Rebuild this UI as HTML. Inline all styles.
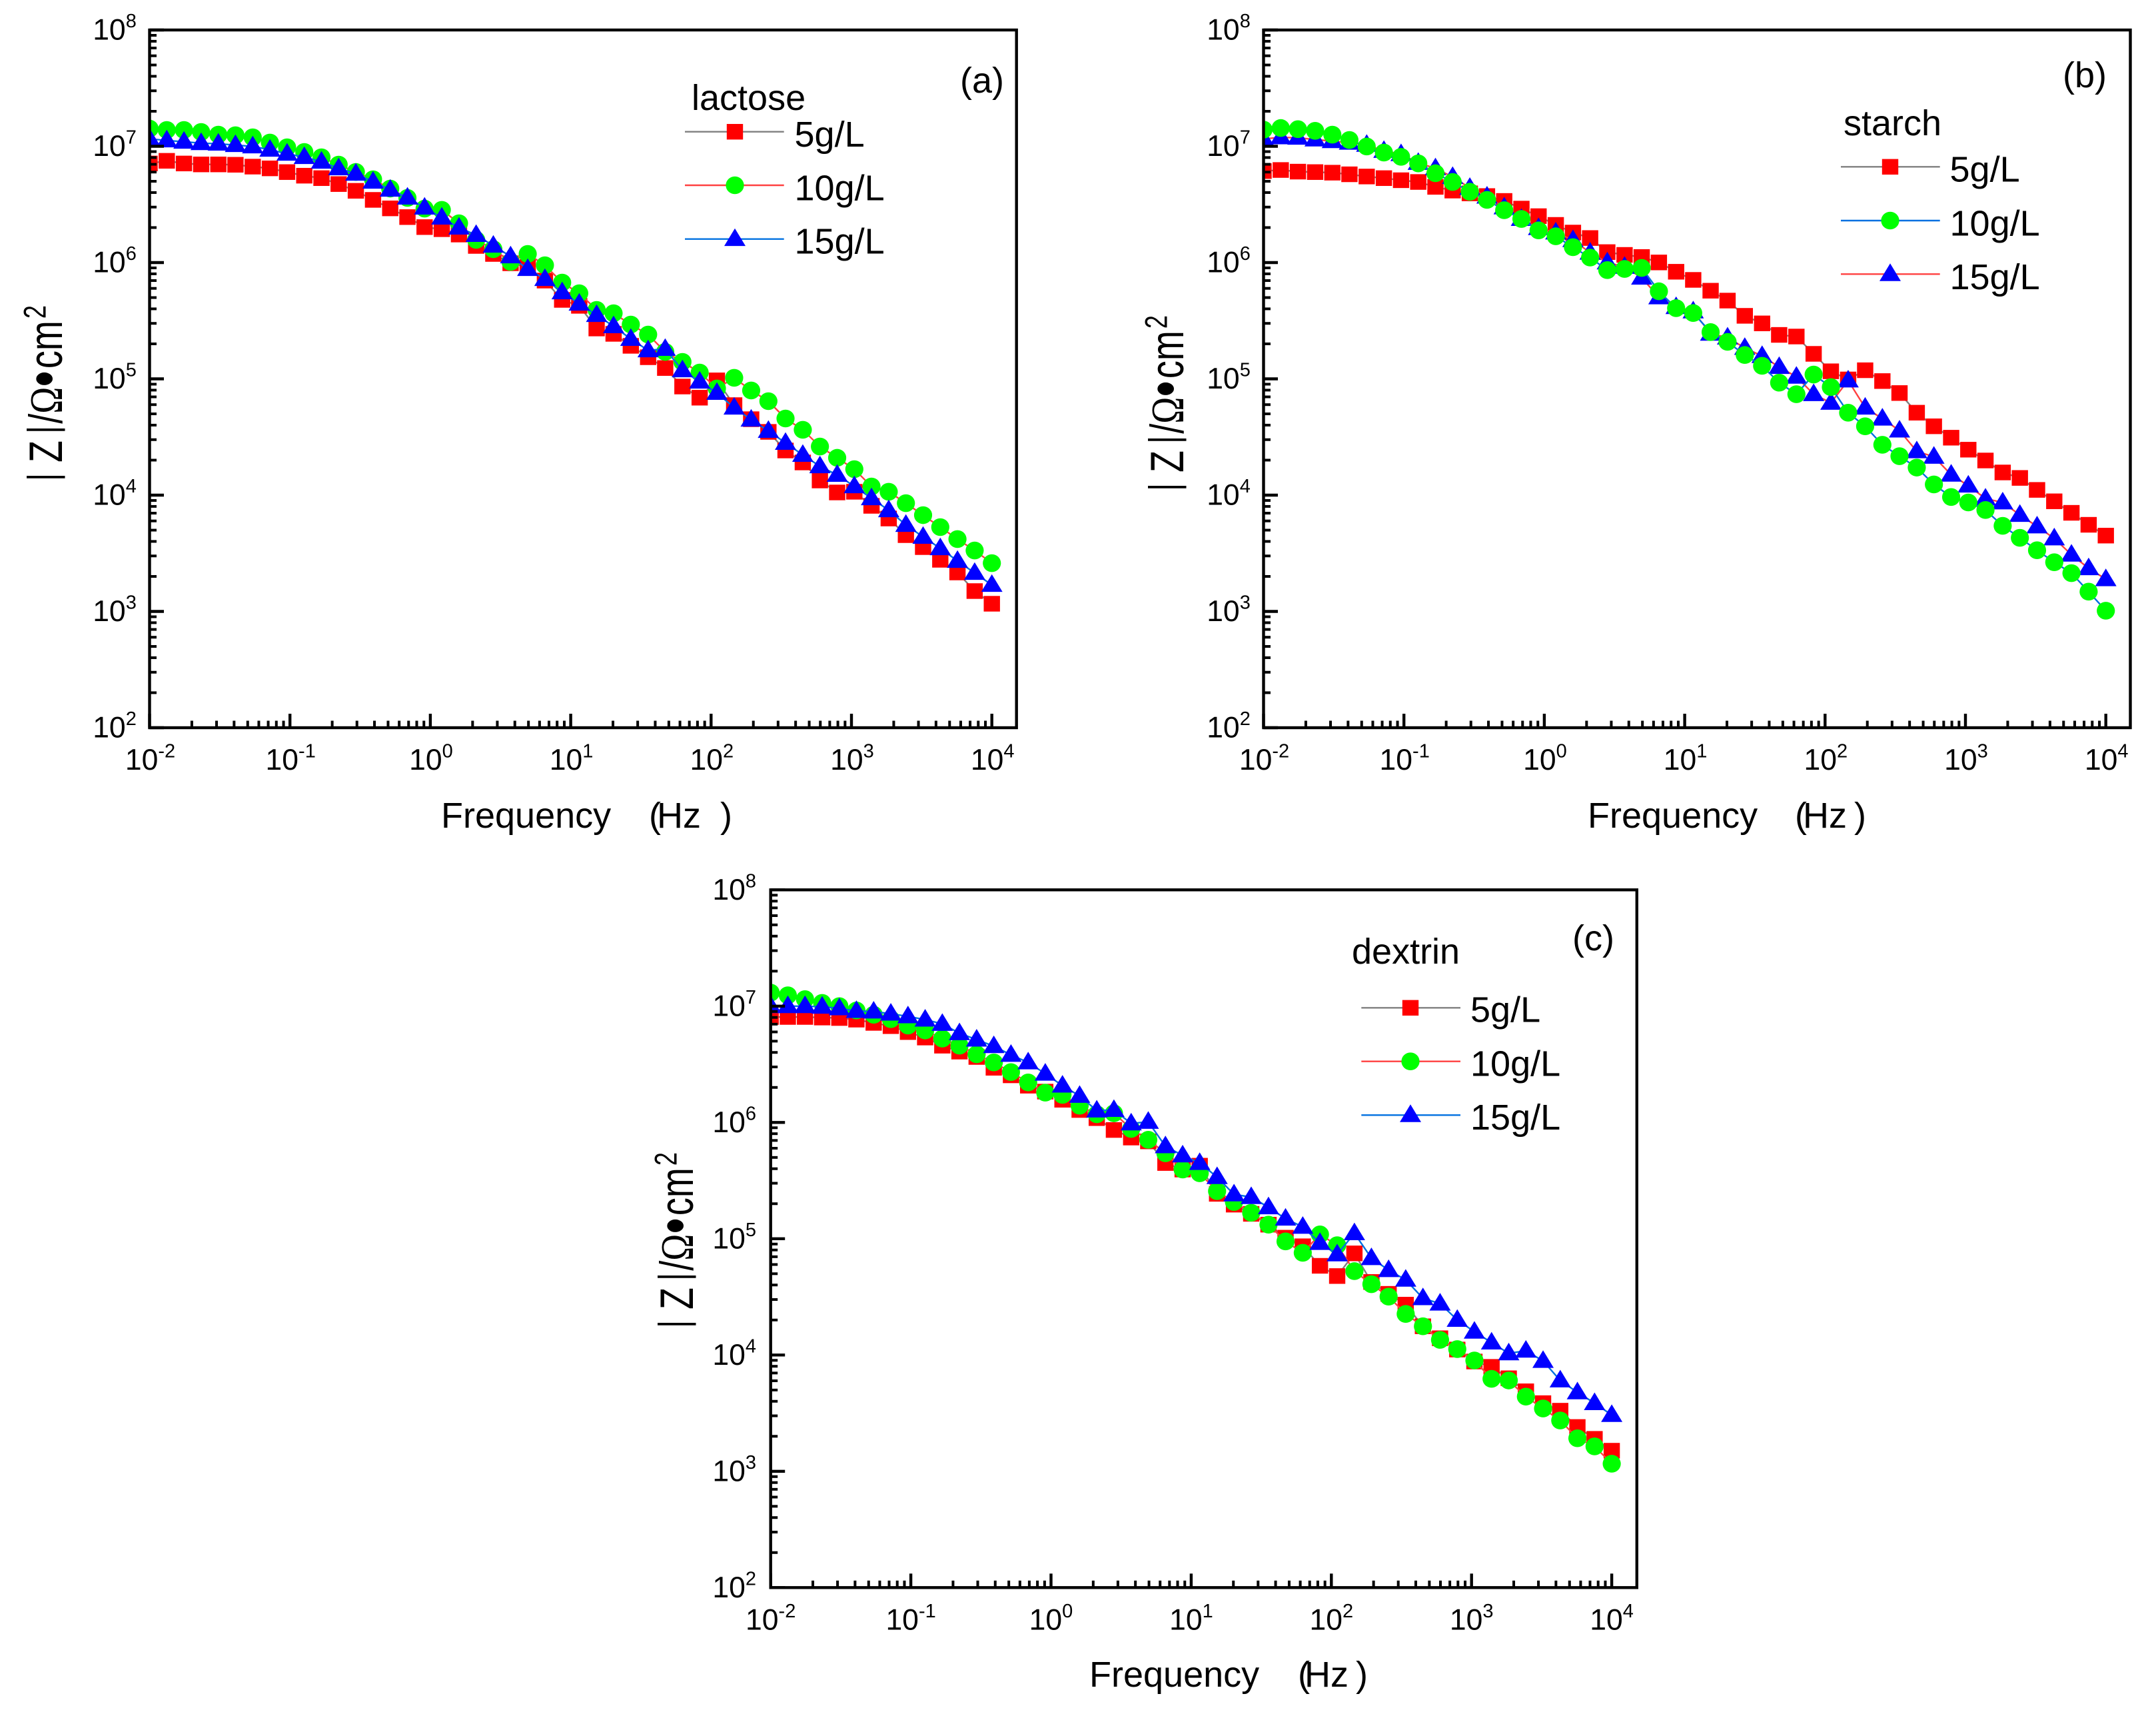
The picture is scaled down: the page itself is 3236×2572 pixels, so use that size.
<!DOCTYPE html>
<html lang="en">
<head>
<meta charset="utf-8">
<title>Impedance modulus vs frequency</title>
<style>
html,body{margin:0;padding:0;background:#fff;}
body{width:3236px;height:2572px;overflow:hidden;}
svg{display:block;}
text{font-family:"Liberation Sans",sans-serif;fill:#000;}
</style>
</head>
<body>
<svg id="chart" xmlns="http://www.w3.org/2000/svg" width="3236" height="2572" viewBox="0 0 3236 2572"></svg>
<script>
// Frequencies in Hz shared by all series
const frequencies = [0.01,0.01326,0.01758,0.0233,0.0309,0.0409,0.0543,0.0720,0.0954,0.1265,0.1677,0.2223,0.2947,0.3907,0.518,0.687,0.910,1.207,1.60,2.12,2.81,3.73,4.94,6.55,8.69,11.5,15.3,20.2,26.8,35.6,47.1,62.5,82.9,110,146,193,256,339,450,596,791,1048,1389,1842,2442,3237,4292,5690,7543,10000];
const xTickExponents = [-2,-1,0,1,2,3,4];
const yTickExponents = [2,3,4,5,6,7,8];
const minorFactors = [2,3,4,5,6,7,8,9];

// log10 of |Z| (ohm cm2) per panel and series
const lactose5 = [6.852,6.875,6.852,6.844,6.844,6.841,6.825,6.810,6.778,6.747,6.726,6.675,6.617,6.539,6.466,6.391,6.305,6.287,6.241,6.143,6.074,5.994,5.962,5.845,5.679,5.628,5.433,5.387,5.284,5.186,5.093,4.934,4.838,4.987,4.774,4.653,4.544,4.384,4.281,4.126,4.023,4.029,3.908,3.799,3.656,3.553,3.444,3.335,3.175,3.066];
const lactose10 = [7.152,7.140,7.140,7.123,7.100,7.095,7.077,7.032,6.991,6.951,6.905,6.842,6.779,6.716,6.636,6.556,6.464,6.453,6.338,6.195,6.115,6.006,6.074,5.977,5.828,5.736,5.593,5.564,5.467,5.381,5.232,5.146,5.054,4.917,5.009,4.900,4.808,4.659,4.562,4.418,4.321,4.223,4.074,4.029,3.931,3.828,3.725,3.622,3.524,3.415];
const lactose15 = [7.064,7.050,7.039,7.027,7.022,7.010,6.999,6.970,6.936,6.907,6.867,6.810,6.764,6.695,6.626,6.558,6.472,6.386,6.300,6.237,6.145,6.053,5.944,5.858,5.744,5.646,5.549,5.452,5.343,5.245,5.257,5.073,4.976,4.879,4.752,4.649,4.552,4.449,4.346,4.248,4.174,4.076,3.973,3.870,3.744,3.641,3.543,3.434,3.331,3.228];

const starch5 = [6.787,6.796,6.782,6.778,6.773,6.759,6.740,6.726,6.708,6.693,6.651,6.619,6.595,6.572,6.530,6.464,6.399,6.324,6.258,6.211,6.090,6.066,6.048,6.001,5.921,5.851,5.758,5.673,5.542,5.477,5.378,5.364,5.215,5.065,4.995,5.074,4.981,4.878,4.709,4.592,4.494,4.391,4.298,4.195,4.148,4.045,3.947,3.848,3.745,3.652];
const starch10 = [7.143,7.157,7.147,7.133,7.100,7.054,6.998,6.946,6.909,6.853,6.768,6.693,6.609,6.539,6.450,6.375,6.277,6.226,6.132,6.043,5.935,5.945,5.954,5.753,5.608,5.566,5.402,5.318,5.205,5.112,4.967,4.868,5.037,4.929,4.709,4.592,4.433,4.335,4.237,4.092,3.984,3.937,3.872,3.736,3.633,3.526,3.423,3.329,3.170,3.006];
const starch15 = [7.063,7.077,7.073,7.058,7.044,7.030,7.012,6.960,6.932,6.857,6.810,6.736,6.642,6.567,6.474,6.375,6.296,6.258,6.193,6.085,6.001,5.963,5.870,5.701,5.617,5.580,5.388,5.355,5.266,5.196,5.102,5.018,4.868,4.794,4.986,4.752,4.658,4.555,4.377,4.330,4.176,4.082,3.970,3.937,3.830,3.731,3.628,3.488,3.371,3.277];

const dextrin5 = [6.907,6.907,6.907,6.902,6.898,6.884,6.856,6.828,6.777,6.730,6.660,6.609,6.563,6.470,6.405,6.316,6.265,6.195,6.107,6.037,5.935,5.870,5.837,5.651,5.595,5.628,5.386,5.293,5.214,5.121,5.009,4.935,4.767,4.679,4.874,4.628,4.526,4.433,4.247,4.144,4.047,3.944,3.898,3.800,3.688,3.586,3.521,3.381,3.279,3.177];
const dextrin10 = [7.116,7.093,7.060,7.028,7.000,6.963,6.926,6.888,6.833,6.791,6.721,6.660,6.586,6.516,6.433,6.344,6.256,6.237,6.144,6.070,6.079,5.944,5.851,5.735,5.595,5.563,5.409,5.316,5.223,5.121,4.977,4.879,5.037,4.944,4.721,4.609,4.502,4.353,4.247,4.130,4.051,3.953,3.795,3.781,3.642,3.540,3.437,3.284,3.214,3.065];
const dextrin15 = [7.000,7.000,7.000,6.995,6.981,6.958,6.953,6.935,6.912,6.884,6.847,6.767,6.712,6.656,6.581,6.516,6.419,6.316,6.228,6.102,6.107,5.991,6.005,5.795,5.716,5.651,5.530,5.381,5.358,5.270,5.172,5.102,4.963,4.865,5.047,4.833,4.730,4.647,4.488,4.442,4.302,4.200,4.107,4.014,4.037,3.949,3.781,3.679,3.586,3.484];

const GRAY = '#7f7f7f', LINE_RED = '#ff4040', LINE_BLUE = '#0070e0';
const NS = 'http://www.w3.org/2000/svg';
const root = document.getElementById('chart');

const panels = [
  { id:'a', left:224.5, right:1525.7, top:45, bottom:1092, dx:210.7, yLabelShift:1.5, xLabelShift:1,
    tag:'(a)', tagX:1441, tagY:139,
    name:'lactose', nameX:1038, nameY:165,
    legendLineX:1028, legendMarkerX:1103, legendTextX:1192.5, legendRowsY:[197.7,278,358.7], legendBaseY:[220,300.7,380.7],
    freqX:662, parenOpenX:974, hzX:986, parenCloseX:1081, freqY:1242,
    ytX:93, ytY:722,
    series:[
      { key:'5g-l', label:'5g/L', values:lactose5, line:GRAY, marker:'square' },
      { key:'10g-l', label:'10g/L', values:lactose10, line:LINE_RED, marker:'circle' },
      { key:'15g-l', label:'15g/L', values:lactose15, line:LINE_BLUE, marker:'triangle' }
    ], drawOrder:[0,1,2] },
  { id:'b', left:1896.5, right:3197.5, top:45, bottom:1092, dx:210.7, yLabelShift:1.5, xLabelShift:1,
    tag:'(b)', tagX:3096, tagY:131,
    name:'starch', nameX:2767, nameY:203,
    legendLineX:2763, legendMarkerX:2837, legendTextX:2926.5, legendRowsY:[250.3,331,411.3], legendBaseY:[272.3,353.3,434],
    freqX:2383, parenOpenX:2694, hzX:2706, parenCloseX:2783, freqY:1242,
    ytX:1776, ytY:737,
    series:[
      { key:'5g-l', label:'5g/L', values:starch5, line:GRAY, marker:'square' },
      { key:'10g-l', label:'10g/L', values:starch10, line:LINE_BLUE, marker:'circle' },
      { key:'15g-l', label:'15g/L', values:starch15, line:LINE_RED, marker:'triangle' }
    ], drawOrder:[0,2,1] },
  { id:'c', left:1156.7, right:2456.8, top:1335.3, bottom:2382.3, dx:210.4, yLabelShift:-0.5, xLabelShift:0,
    tag:'(c)', tagX:2360, tagY:1426,
    name:'dextrin', nameX:2029, nameY:1446,
    legendLineX:2043.3, legendMarkerX:2117, legendTextX:2207, legendRowsY:[1512.3,1592.7,1673.3], legendBaseY:[1533.3,1614.3,1695],
    freqX:1635, parenOpenX:1948, hzX:1958, parenCloseX:2035, freqY:2531,
    ytX:1040, ytY:1993,
    series:[
      { key:'5g-l', label:'5g/L', values:dextrin5, line:GRAY, marker:'square' },
      { key:'10g-l', label:'10g/L', values:dextrin10, line:LINE_RED, marker:'circle' },
      { key:'15g-l', label:'15g/L', values:dextrin15, line:LINE_BLUE, marker:'triangle' }
    ], drawOrder:[0,1,2] }
];

function svgEl(tag, parent) {
  const el = document.createElementNS(NS, tag);
  parent.appendChild(el);
  return el;
}

function drawMarker(parent, kind, cx, cy) {
  let el;
  if (kind === 'square') {
    el = svgEl('rect', parent);
    el.setAttribute('x', cx - 12.2);
    el.setAttribute('y', cy - 11.7);
    el.setAttribute('width', 24.4);
    el.setAttribute('height', 23.4);
    el.setAttribute('fill', '#ff0000');
  } else if (kind === 'circle') {
    el = svgEl('ellipse', parent);
    el.setAttribute('cx', cx);
    el.setAttribute('cy', cy);
    el.setAttribute('rx', 13.6);
    el.setAttribute('ry', 13.3);
    el.setAttribute('fill', '#00ff00');
  } else {
    el = svgEl('polygon', parent);
    el.setAttribute('points', cx + ',' + (cy - 16) + ' ' + (cx + 16) + ',' + (cy + 10.4) + ' ' + (cx - 16) + ',' + (cy + 10.4));
    el.setAttribute('fill', '#0000ff');
  }
  
  
  return el;
}

function drawText(parent, x, y, str, size) {
  const el = svgEl('text', parent);
  el.setAttribute('x', x);
  el.setAttribute('y', y);
  el.setAttribute('font-size', size);
  el.textContent = str;
  return el;
}

function drawPowerLabel(parent, x, y, exponent, anchor) {
  const el = svgEl('text', parent);
  el.setAttribute('x', x);
  el.setAttribute('y', y);
  el.setAttribute('font-size', 44.5);
  el.setAttribute('text-anchor', anchor);
  const base = svgEl('tspan', el);
  base.textContent = '10';
  const sup = svgEl('tspan', el);
  sup.setAttribute('dy', -18.5);
  sup.setAttribute('font-size', 29);
  sup.textContent = String(exponent);
  return el;
}

function drawTick(parent, x1, y1, x2, y2, w) {
  const el = svgEl('line', parent);
  el.setAttribute('x1', x1);
  el.setAttribute('y1', y1);
  el.setAttribute('x2', x2);
  el.setAttribute('y2', y2);
  el.setAttribute('stroke', '#000');
  el.setAttribute('stroke-width', w);
  return el;
}

panels.forEach(function (p) {
  const xScale = function (f) { return p.left + (Math.log10(f) + 2) * p.dx; };
  const yScale = function (logZ) { return p.bottom - (logZ - 2) * (p.bottom - p.top) / 6; };

  const g = svgEl('g', root);
  
  

  const defs = svgEl('defs', g);
  const clip = svgEl('clipPath', defs);
  clip.setAttribute('id', 'plot-clip-' + p.id);
  const clipRect = svgEl('rect', clip);
  clipRect.setAttribute('x', p.left);
  clipRect.setAttribute('y', p.top);
  clipRect.setAttribute('width', p.right - p.left);
  clipRect.setAttribute('height', p.bottom - p.top);

  const plot = svgEl('g', g);
  plot.setAttribute('clip-path', 'url(#plot-clip-' + p.id + ')');
  
  

  p.drawOrder.forEach(function (idx) {
    const s = p.series[idx];
    const sg = svgEl('g', plot);
    
    
    const line = svgEl('polyline', sg);
    line.setAttribute('points', s.values.map(function (v, i) { return xScale(frequencies[i]) + ',' + yScale(v); }).join(' '));
    line.setAttribute('fill', 'none');
    line.setAttribute('stroke', s.line);
    line.setAttribute('stroke-width', 2.4);
    
    
    s.values.forEach(function (v, i) {
      drawMarker(sg, s.marker, xScale(frequencies[i]), yScale(v));
    });
  });

  // Frame
  const frame = svgEl('rect', g);
  frame.setAttribute('x', p.left);
  frame.setAttribute('y', p.top);
  frame.setAttribute('width', p.right - p.left);
  frame.setAttribute('height', p.bottom - p.top);
  frame.setAttribute('fill', 'none');
  frame.setAttribute('stroke', '#000');
  frame.setAttribute('stroke-width', 4.4);
  
  

  // X axis ticks and labels
  const xAxis = svgEl('g', g);
  
  
  xTickExponents.forEach(function (e) {
    const f = Math.pow(10, e);
    const major = drawTick(xAxis, xScale(f), p.bottom, xScale(f), p.bottom - 21, 4.4);
    
    
    const label = drawPowerLabel(xAxis, xScale(f) + p.xLabelShift, p.bottom + 63, e, 'middle');
    
    
    if (e < 4) {
      minorFactors.forEach(function (m) {
        const mt = drawTick(xAxis, xScale(f * m), p.bottom, xScale(f * m), p.bottom - 10.5, 4);
        
        
      });
    }
  });

  // Y axis ticks and labels
  const yAxis = svgEl('g', g);
  
  
  yTickExponents.forEach(function (e) {
    const major = drawTick(yAxis, p.left, yScale(e), p.left + 21.5, yScale(e), 4.4);
    
    
    const label = drawPowerLabel(yAxis, p.left - 86.8 + p.yLabelShift, yScale(e) + 14.6, e, 'start');
    
    
    if (e < 8) {
      minorFactors.forEach(function (m) {
        const v = e + Math.log10(m);
        const mt = drawTick(yAxis, p.left, yScale(v), p.left + 10.5, yScale(v), 4);
        
        
      });
    }
  });

  // Panel tag
  const tag = drawText(g, p.tagX, p.tagY, p.tag, 54);
  
  

  // Legend
  const legend = svgEl('g', g);
  
  
  const title = drawText(legend, p.nameX, p.nameY, p.name, 54);
  
  
  p.series.forEach(function (s, i) {
    const entry = svgEl('g', legend);
    
    
    const ln = drawTick(entry, p.legendLineX, p.legendRowsY[i], p.legendLineX + 148.7, p.legendRowsY[i], 2.4);
    ln.setAttribute('stroke', s.line);
    
    
    drawMarker(entry, s.marker, p.legendMarkerX, p.legendRowsY[i]);
    const t = drawText(entry, p.legendTextX, p.legendBaseY[i], s.label, 54);
    
    
  });

  // X axis title
  const xTitle = svgEl('g', g);
  
  
  drawText(xTitle, p.freqX, p.freqY, 'Frequency', 54);
  drawText(xTitle, p.parenOpenX, p.freqY, '(', 54);
  drawText(xTitle, p.hzX, p.freqY, 'Hz', 54);
  drawText(xTitle, p.parenCloseX, p.freqY, ')', 54);

  // Y axis title: glyphs are stretched across the text direction in the source figure
  const yTitle = svgEl('text', g);
  yTitle.setAttribute('transform', 'translate(' + p.ytX + ',' + p.ytY + ') rotate(-90) scale(1,1.3)');
  yTitle.setAttribute('font-size', 54);
  
  
  const t1 = svgEl('tspan', yTitle);
  t1.setAttribute('font-size', 47);
  t1.setAttribute('dy', -6.7);
  t1.textContent = '|';
  const t2 = svgEl('tspan', yTitle);
  t2.setAttribute('dx', 15.8);
  t2.setAttribute('dy', 6.7);
  t2.textContent = 'Z';
  const t3 = svgEl('tspan', yTitle);
  t3.setAttribute('font-size', 47);
  t3.setAttribute('dx', 10);
  t3.setAttribute('dy', -6.7);
  t3.textContent = '|';
  const t4 = svgEl('tspan', yTitle);
  t4.setAttribute('dx', 3);
  t4.setAttribute('dy', 6.7);
  t4.textContent = '/';
  const t5 = svgEl('tspan', yTitle);
  t5.setAttribute('style', 'font-family:"Liberation Serif",serif');
  t5.textContent = 'Ω';
  const t6 = svgEl('tspan', yTitle);
  t6.setAttribute('font-size', 70);
  t6.setAttribute('dy', 3);
  t6.textContent = '•';
  const t7 = svgEl('tspan', yTitle);
  t7.setAttribute('dx', 3);
  t7.setAttribute('dy', -3);
  t7.textContent = 'cm';
  const t8 = svgEl('tspan', yTitle);
  t8.setAttribute('dx', 3);
  t8.setAttribute('dy', -19);
  t8.setAttribute('font-size', 36);
  t8.textContent = '2';
});
</script>
</body>
</html>
